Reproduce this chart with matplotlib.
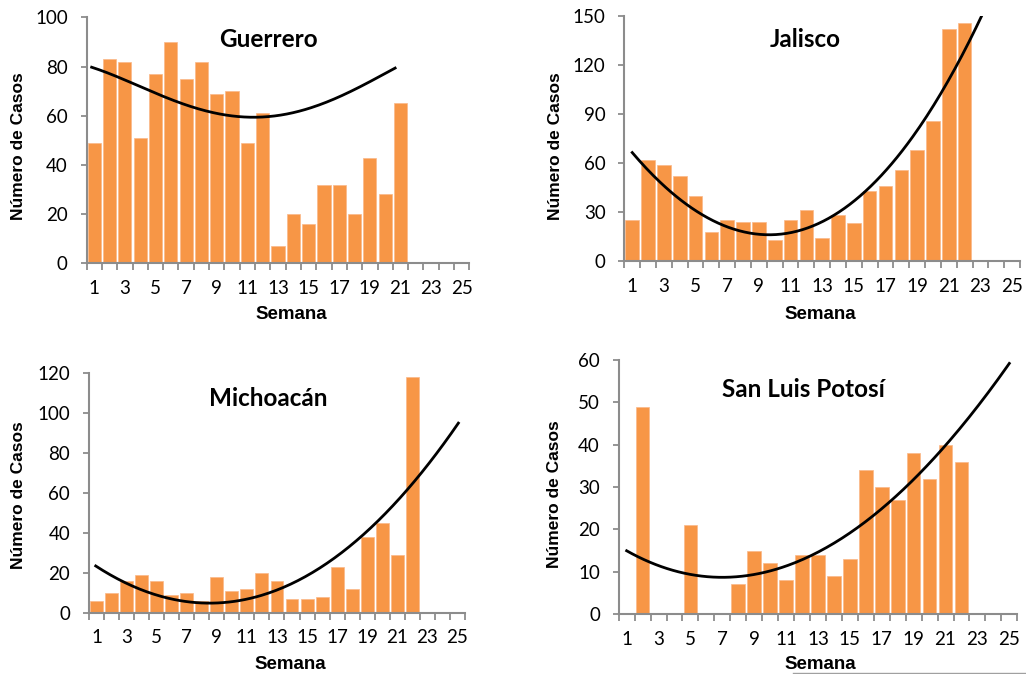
import numpy as np
import matplotlib.pyplot as plt
from matplotlib.lines import Line2D

# casos por semana (semanas 1..n)
guerrero = [49, 83, 82, 51, 77, 90, 75, 82, 69, 70, 49, 61, 7, 20, 16, 32, 32, 20, 43, 28, 65]
jalisco = [25, 62, 59, 52, 40, 18, 25, 24, 24, 13, 25, 31, 14, 28, 23, 43, 46, 56, 68, 86, 142, 146]
michoacan = [6, 10, 16, 19, 16, 9, 10, 6, 18, 11, 12, 20, 16, 7, 7, 8, 23, 12, 38, 45, 29, 118]
slp = [0, 49, 0, 0, 21, 0, 0, 7, 15, 12, 8, 14, 14, 9, 13, 34, 30, 27, 38, 32, 40, 36]

# puntos leidos sobre la linea de tendencia de cada grafica
guerrero_tx = [0.83, 2.57, 4.75, 6.93, 9.1, 11.3, 12.1, 14.23, 16.4, 18.58, 20.65]
guerrero_ty = [79.9, 75.4, 69.5, 65.0, 61.3, 59.1, 59.0, 61.6, 66.4, 72.5, 79.3]
jalisco_tx = [1.0, 4.46, 9.4, 15.0, 19.2, 23.05]
jalisco_ty = [66.3, 34.9, 14.9, 38.5, 81.2, 150.0]
michoacan_tx = [0.95, 4.0, 8.76, 16.7, 19.5, 25.06]
michoacan_ty = [23.1, 12.2, 4.4, 26.4, 45.0, 94.9]
slp_tx = [1.0, 7.06, 15.2, 20.65, 25.0]
slp_ty = [14.9, 8.8, 19.4, 38.6, 59.1]

x_labels = list(range(1, 26, 2))

ORANGE = '#F79646'
GREY = '#8C8C8C'


def draw_panel(rect, title, counts, ymax, ystep, tx, ty, deg, title_xy, ylab_xy, xlab_xy):
    ax = fig.add_axes(rect)
    weeks = np.arange(1, len(counts) + 1)
    ax.bar(weeks, counts, width=0.86, color=ORANGE, edgecolor='#FAB889', linewidth=0.5, zorder=2)

    # tendencia (polinomio suave por los puntos leidos)
    coef = np.polyfit(tx, ty, deg)
    xs = np.linspace(tx[0], tx[-1], 200)
    ax.plot(xs, np.polyval(coef, xs), color='black', lw=2.0, zorder=3)

    ax.set_xlim(0.5, 25.5)
    ax.set_ylim(0, ymax)
    ax.set_xticks(x_labels)
    ax.set_xticklabels([str(v) for v in x_labels])
    ax.set_xticks(np.arange(0.5, 26, 1), minor=True)
    ax.set_yticks(np.arange(0, ymax + 1, ystep))
    ax.tick_params(axis='x', which='major', length=0, pad=12, labelsize=13.5)
    ax.tick_params(axis='x', which='minor', length=5, width=1.3, color=GREY, direction='out')
    ax.tick_params(axis='y', length=4.5, width=1.3, color=GREY, pad=9, labelsize=13.5)
    for lab in ax.get_xticklabels() + ax.get_yticklabels():
        lab.set_family('Lato')

    for s in ['top', 'right']:
        ax.spines[s].set_visible(False)
    for s in ['left', 'bottom']:
        ax.spines[s].set_color(GREY)
        ax.spines[s].set_linewidth(1.5)

    ax.text(title_xy[0], title_xy[1], title, transform=ax.transAxes, ha='center', va='center',
            fontsize=17.5, fontweight='bold', family='Lato')
    ax.text(ylab_xy[0], ylab_xy[1], 'Número de Casos', transform=ax.transAxes, rotation=90,
            ha='center', va='center', fontsize=12.5, fontweight='bold', family='Liberation Sans')
    ax.text(xlab_xy[0], xlab_xy[1], 'Semana', transform=ax.transAxes, ha='center', va='center',
            fontsize=13.5, fontweight='bold', family='Liberation Sans')
    return ax


fig = plt.figure(figsize=(10.26, 6.74), dpi=100)

draw_panel([0.0844, 0.6093, 0.3731, 0.365], 'Guerrero', guerrero, 100, 20,
           guerrero_tx, guerrero_ty, 4, (0.474, 0.908), (-0.177, 0.478), (0.536, -0.21))
draw_panel([0.6085, 0.6128, 0.3857, 0.3635], 'Jalisco', jalisco, 150, 30,
           jalisco_tx, jalisco_ty, 3, (0.457, 0.902), (-0.175, 0.47), (0.495, -0.22))
draw_panel([0.0867, 0.0909, 0.3665, 0.3552], 'Michoacán', michoacan, 120, 20,
           michoacan_tx, michoacan_ty, 3, (0.477, 0.896), (-0.188, 0.49), (0.535, -0.218))
draw_panel([0.603, 0.089, 0.3885, 0.3769], 'San Luis Potosí', slp, 60, 10,
           slp_tx, slp_ty, 3, (0.463, 0.882), (-0.16, 0.47), (0.505, -0.2))

# linea gris del borde inferior
fig.add_artist(Line2D([793 / 1026, 1.0], [1 - 673 / 674] * 2, color='#A0A0A0', lw=1.0))

fig.savefig('out.png', dpi=100)
